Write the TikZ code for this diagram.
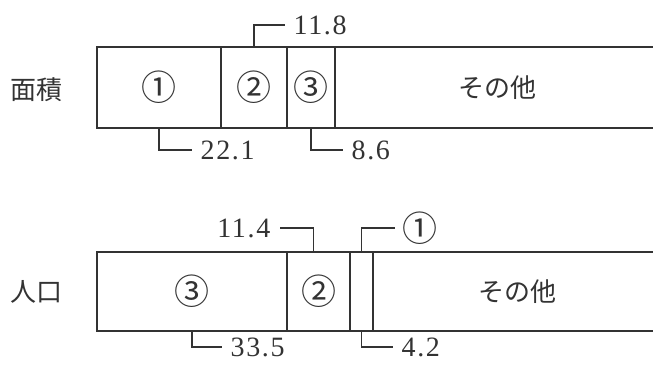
\documentclass[tikz,border=0pt]{standalone}
\usepackage{fontspec}
\setmainfont{Liberation Serif}
\newfontfamily\numf[LetterSpace=6]{Liberation Serif}
\newfontfamily\jp{Noto Sans CJK JP}
\definecolor{ink}{HTML}{333333}
\begin{document}
\begin{tikzpicture}[x=1pt,y=-1pt,line width=1.3pt,
  seg/.style={draw=ink,text=ink,inner sep=0pt,outer sep=0pt,anchor=north west,font=\jp\fontsize{35}{35}\selectfont},
  rowlab/.style={text=ink,inner sep=0pt,font=\jp\fontsize{26}{26}\selectfont},
  numlab/.style={text=ink,inner xsep=8pt,inner ysep=0pt,font=\numf\fontsize{28}{28}\selectfont},
  leader/.style={draw=ink,line width=1.3pt}]
\useasboundingbox[fill=white] (0,0) rectangle (653,365);
% top bar (area)
\node[seg,minimum width=124pt,minimum height=81pt] (a1) at (97,47) {①};
\node[seg,minimum width=66pt,minimum height=81pt] (a2) at (221,47) {②};
\node[seg,minimum width=48pt,minimum height=81pt] (a3) at (287,47) {③};
\node[seg,minimum width=324pt,minimum height=81pt,font=\jp\fontsize{26}{26}\selectfont] (a4) at (335,47) {その他};
\node[rowlab] (r1) at (36,90) {面積};
\node[numlab,anchor=west] (l118) at (285,25) {11.8};
\node[numlab,anchor=west] (l221) at (192,150) {22.1};
\node[numlab,anchor=west] (l86) at (343,150) {8.6};
\draw[leader] (a2.north) |- (l118.west);
\draw[leader] (a1.south) |- (l221.west);
\draw[leader] (a3.south) |- (l86.west);
% bottom bar (population)
\node[seg,minimum width=190pt,minimum height=79pt] (b3) at (97,252) {③};
\node[seg,minimum width=63pt,minimum height=79pt] (b2) at (287,252) {②};
\node[seg,minimum width=23pt,minimum height=79pt] (b1) at (350,252) {};
\node[seg,minimum width=288pt,minimum height=79pt,font=\jp\fontsize{26}{26}\selectfont] (b4) at (373,252) {その他};
\node[rowlab] (r2) at (36,292) {人口};
\node[numlab,anchor=east,inner xsep=9pt] (l114) at (280,228) {11.4};
\node[numlab,anchor=west,inner xsep=7pt,font=\jp\fontsize{35}{35}\selectfont] (lc1) at (395,228) {①};
\node[numlab,anchor=west] (l335) at (222,347) {33.5};
\node[numlab,anchor=west] (l42) at (393,347) {4.2};
\draw[leader] ([xshift=-5pt]b2.north) |- (l114.east);
\draw[leader] (b1.north) |- (lc1.west);
\draw[leader] (b3.south) |- (l335.west);
\draw[leader] (b1.south) |- (l42.west);
\end{tikzpicture}
\end{document}
